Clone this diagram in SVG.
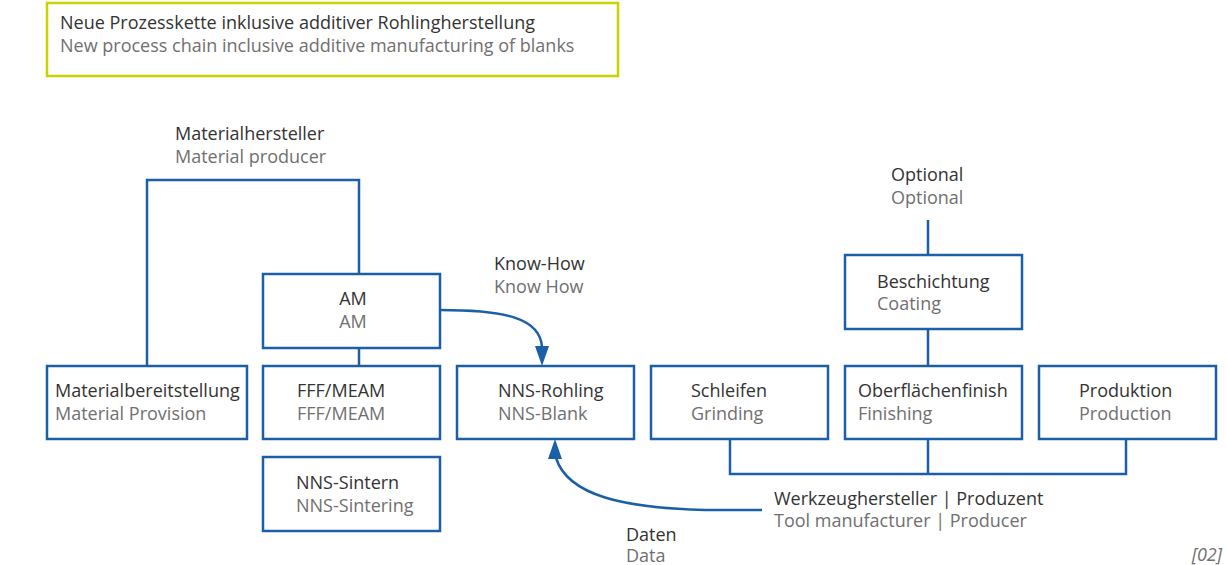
<svg xmlns="http://www.w3.org/2000/svg" width="1227" height="565" viewBox="0 0 1227 565">
<style>
.box{fill:#fff;stroke:#1b5fa8;stroke-width:2.5}
.ln{fill:none;stroke:#1b5fa8;stroke-width:2.5}
.ah{fill:#1b5fa8}
text{font-family:"Open Sans","Noto Sans",sans-serif;font-size:18px}
.a{fill:#333}
.b{fill:#707070}
</style>
<rect width="1227" height="565" fill="#fff"/>
<g id="title">
<rect x="47" y="3" width="571" height="73" fill="#fff" stroke="#c8d400" stroke-width="2.5"/>
<text class="a" x="60" y="29">Neue Prozesskette inklusive additiver Rohlingherstellung</text>
<text class="b" x="60" y="52">New process chain inclusive additive manufacturing of blanks</text>
</g>
<g id="connectors">
<polyline class="ln" points="147,366 147,180 359,180 359,274"/>
<line class="ln" x1="359" y1="348" x2="359" y2="366"/>
<line class="ln" x1="928" y1="220" x2="928" y2="255"/>
<line class="ln" x1="928" y1="329" x2="928" y2="366"/>
<polyline class="ln" points="730,439 730,474 1126,474 1126,439"/>
<line class="ln" x1="928" y1="439" x2="928" y2="474"/>
<path class="ln" d="M440,310 C505,310 540,318 542,347"/>
<polygon class="ah" points="535,346 549,346 542,366"/>
<path class="ln" d="M762,510 L705,510 C625,508 568,496 556,458"/>
<polygon class="ah" points="548,459 562,459 555,439"/>
</g>
<g id="materialhersteller">
<text class="a" x="175" y="140">Materialhersteller</text>
<text class="b" x="175" y="163">Material producer</text>
</g>
<g id="knowhow">
<text class="a" x="494" y="270">Know-How</text>
<text class="b" x="494" y="293">Know How</text>
</g>
<g id="optional">
<text class="a" x="891" y="181">Optional</text>
<text class="b" x="891" y="204">Optional</text>
</g>
<g id="am">
<rect class="box" x="263" y="274" width="177" height="74"/>
<text class="a" x="353" y="305" text-anchor="middle">AM</text>
<text class="b" x="353" y="328" text-anchor="middle">AM</text>
</g>
<g id="materialbereitstellung">
<rect class="box" x="47" y="366" width="200" height="73"/>
<text class="a" x="55" y="397">Materialbereitstellung</text>
<text class="b" x="55" y="420">Material Provision</text>
</g>
<g id="fff">
<rect class="box" x="263" y="366" width="177" height="73"/>
<text class="a" x="297" y="397">FFF/MEAM</text>
<text class="b" x="297" y="420">FFF/MEAM</text>
</g>
<g id="sintern">
<rect class="box" x="263" y="457" width="177" height="74"/>
<text class="a" x="296" y="489">NNS-Sintern</text>
<text class="b" x="296" y="512">NNS-Sintering</text>
</g>
<g id="rohling">
<rect class="box" x="457" y="366" width="177" height="73"/>
<text class="a" x="498" y="397">NNS-Rohling</text>
<text class="b" x="498" y="420">NNS-Blank</text>
</g>
<g id="schleifen">
<rect class="box" x="651" y="366" width="177" height="73"/>
<text class="a" x="691" y="397">Schleifen</text>
<text class="b" x="691" y="420">Grinding</text>
</g>
<g id="beschichtung">
<rect class="box" x="845" y="255" width="177" height="74"/>
<text class="a" x="877" y="288">Beschichtung</text>
<text class="b" x="877" y="310">Coating</text>
</g>
<g id="oberflaeche">
<rect class="box" x="845" y="366" width="177" height="73"/>
<text class="a" x="858" y="397">Oberflächenfinish</text>
<text class="b" x="858" y="420">Finishing</text>
</g>
<g id="produktion">
<rect class="box" x="1039" y="366" width="177" height="73"/>
<text class="a" x="1079" y="397">Produktion</text>
<text class="b" x="1079" y="420">Production</text>
</g>
<g id="werkzeug">
<text class="a" x="774" y="505">Werkzeughersteller | Produzent</text>
<text class="b" x="774" y="527">Tool manufacturer | Producer</text>
</g>
<g id="daten">
<text class="a" x="626" y="541">Daten</text>
<text class="b" x="626" y="562">Data</text>
</g>
<text class="b" x="1222" y="561" text-anchor="end" font-style="italic">[02]</text>
</svg>
